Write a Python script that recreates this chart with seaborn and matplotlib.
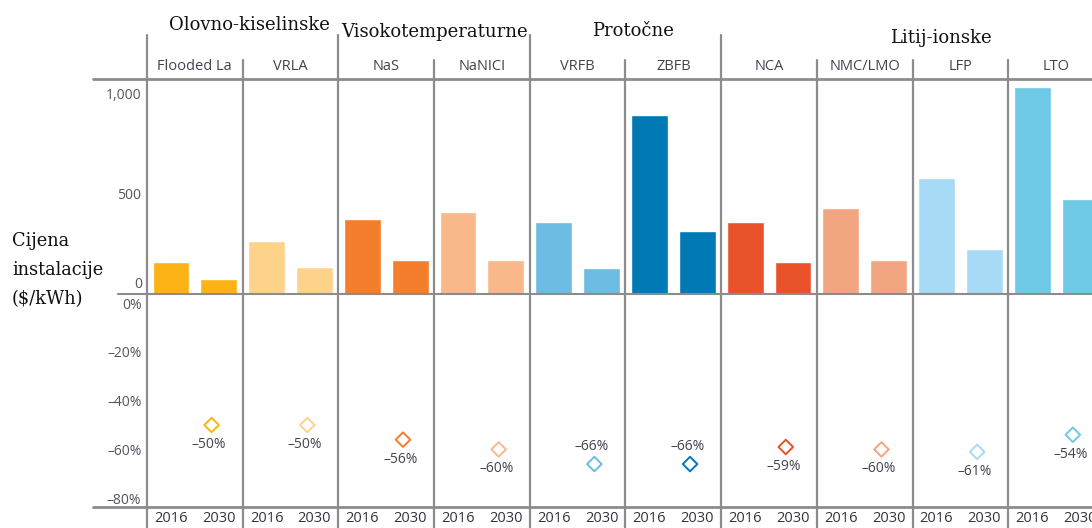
import pandas as pd
import matplotlib.pyplot as plt
import seaborn as sns

# Battery technologies, grouped by chemistry family
technologies = ["Flooded La", "VRLA", "NaS", "NaNICI", "VRFB", "ZBFB", "NCA", "NMC/LMO", "LFP", "LTO"]
groups = ["Olovno-kiselinske", "Visokotemperaturne", "Protočne", "Litij-ionske"]
group_sizes = [2, 2, 2, 4]
years = ["2016", "2030"]

# Installed cost ($/kWh)
price_2016 = [160, 265, 375, 410, 360, 895, 360, 430, 580, 1035]
price_2030 = [75, 135, 170, 170, 130, 315, 160, 170, 225, 475]

# Cost reduction 2016 -> 2030 (%)
change_pct = [-50, -50, -56, -60, -66, -66, -59, -60, -61, -54]

colors = ["#FCB316", "#FDD38C", "#F47E2C", "#F8B88A", "#6CBCE4", "#0079B5",
          "#E9512A", "#F2A581", "#A7DAF4", "#6DC9E5"]

# labels drawn above the diamond instead of below
label_above = {"VRFB", "ZBFB"}

# build the long table for the bar chart
rows = []
for tech, p16, p30 in zip(technologies, price_2016, price_2030):
    rows.append({"bar": tech + " 2016", "tech": tech, "price": p16})
    rows.append({"bar": tech + " 2030", "tech": tech, "price": p30})
price_df = pd.DataFrame(rows)
bar_order = list(price_df["bar"])
bar_palette = {r["bar"]: colors[technologies.index(r["tech"])] for r in rows}

change_df = pd.DataFrame({"tech": technologies, "change": change_pct})
change_df["x"] = [2 * i + 1 - 0.15 for i in range(len(technologies))]

line_col = "#8c8c8c"
text_col = "#45424f"
tick_col = "#55535e"
serif = "DejaVu Serif"

sns.set_style("white")
plt.rcParams["font.family"] = ["Open Sans", "DejaVu Sans"]

fig = plt.figure(figsize=(10.92, 5.28), dpi=100)
ax_bot = fig.add_axes([147 / 1092, 1 - 507 / 528, 945 / 1092, 213 / 528])
ax_top = fig.add_axes([147 / 1092, 1 - 294 / 528, 945 / 1092, 215 / 528])
ax_top.set_zorder(2)
ax_top.patch.set_alpha(0)

# --- price bars ---
sns.barplot(data=price_df, x="bar", y="price", hue="bar", palette=bar_palette,
            order=bar_order, legend=False, width=0.77, saturation=1, ax=ax_top)
xmax = 19.25
ax_top.set_xlim(-0.5, xmax)
ax_top.set_ylim(0, 1075)
ax_top.set_xticks([])
ax_top.set_xlabel("")
ax_top.set_ylabel("")
ax_top.set_yticks([500, 1000])
ax_top.set_yticklabels(["500", "1,000"])
ax_top.text(-0.6, 8, "0", ha="right", va="bottom", fontsize=10, color=tick_col)

# --- percentage change diamonds ---
sns.scatterplot(data=change_df, x="x", y="change", hue="tech",
                palette=dict(zip(technologies, colors)), marker="D", s=55,
                linewidth=1.4, legend=False, ax=ax_bot)
pts = ax_bot.collections[0]
pts.set_edgecolors(pts.get_facecolors())
pts.set_facecolors("white")

for _, r in change_df.iterrows():
    dy = 13 if r["tech"] in label_above else -14
    ax_bot.annotate(f"\u2013{abs(r['change'])}%", (r["x"] - 0.05, r["change"]),
                    xytext=(0, dy), textcoords="offset points", ha="center",
                    va="center", fontsize=10, color=text_col)

ax_bot.set_xlim(-0.5, xmax)
ax_bot.set_ylim(-83.6, 3.7)
ax_bot.set_yticks([0, -20, -40, -60, -80])
ax_bot.set_yticklabels(["0%", "\u201320%", "\u201340%", "\u201360%", "\u201380%"])
ax_bot.set_xticks(range(len(bar_order)))
ax_bot.set_xticklabels(years * len(technologies))
ax_bot.set_xlabel("")
ax_bot.set_ylabel("")

for ax in (ax_top, ax_bot):
    sns.despine(ax=ax, left=True, bottom=True)
    ax.tick_params(axis="y", length=0, pad=4, labelsize=10, labelcolor=tick_col)
    ax.tick_params(axis="x", length=0, pad=3, labelsize=10.5, labelcolor="#333340")

# horizontal rules
ax_top.plot([-0.057, 1], [1, 1], transform=ax_top.transAxes, color=line_col, lw=2, clip_on=False)
ax_top.plot([-0.031, 1], [0, 0], transform=ax_top.transAxes, color=line_col, lw=1.5, clip_on=False)
ax_bot.plot([-0.057, 1], [0, 0], transform=ax_bot.transAxes, color=line_col, lw=2, clip_on=False)

# vertical separators between technologies / families
major = {0}
pos = 0
for n in group_sizes:
    pos += n
    major.add(pos)
trans = ax_top.get_xaxis_transform()
for b in range(len(technologies) + 1):
    x = 2 * b - 0.5
    if x > xmax:
        continue
    top = 1.205 if b in major else 1.088
    ax_top.plot([x, x], [-1.09, top], transform=trans, color=line_col, lw=1.6, clip_on=False)

# technology labels
for i, tech in enumerate(technologies):
    ax_top.text(2 * i + 0.5, 1.056, tech, transform=trans, ha="center", va="center",
                fontsize=10.5, color=text_col)

# family labels
group_nudge_x = [0.15, 0.0, 0.15, 0.6]
group_y = [1.251, 1.219, 1.223, 1.191]
start = 0
for g, n, nx, gy in zip(groups, group_sizes, group_nudge_x, group_y):
    center = start * 2 + n - 0.5 + nx
    ax_top.text(center, gy, g, transform=trans, ha="center", va="center",
                fontsize=13, family=serif, color="#111111")
    start += n

fig.text(12 / 1092, 1 - 270 / 528, "Cijena\ninstalacije\n($/kWh)", ha="left", va="center",
         fontsize=12.8, family=serif, color="#111111", linespacing=1.8)

fig.savefig("out.png", dpi=100)
